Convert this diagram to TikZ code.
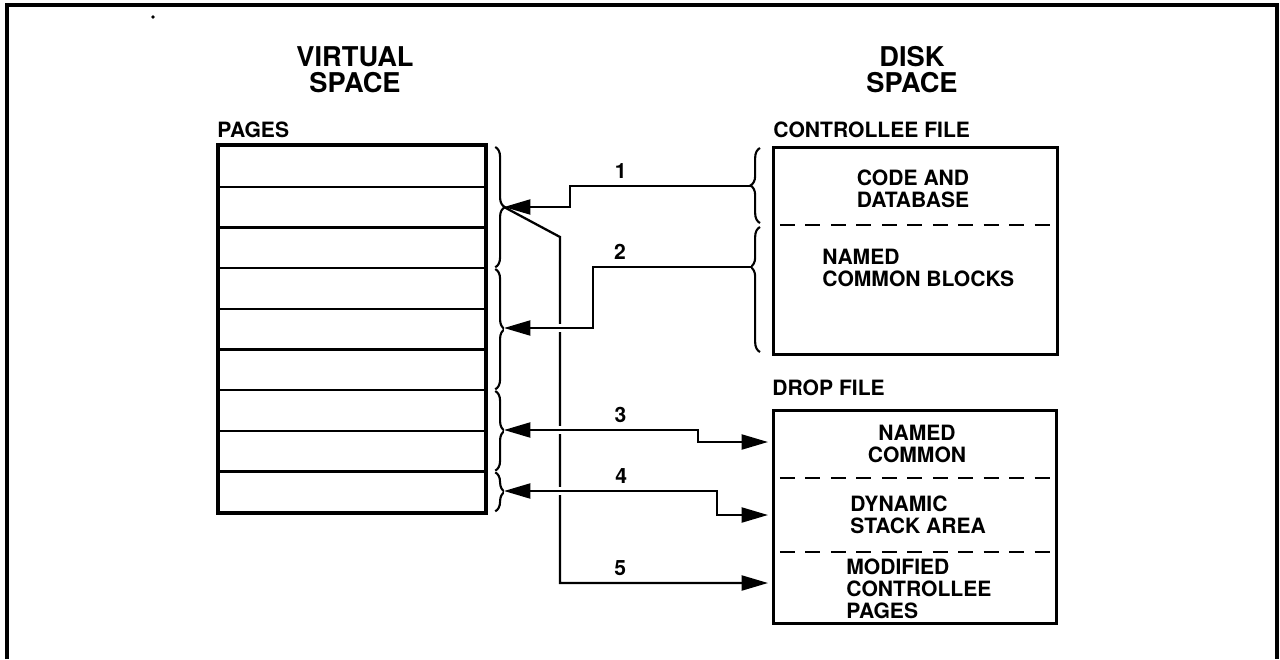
\documentclass[tikz,border=0pt]{standalone}
\usepackage{fontspec}
\setmainfont{TeX Gyre Heros}
\usetikzlibrary{positioning,arrows.meta,calc,decorations.pathreplacing}

\tikzset{
  pagerow/.style={draw, line width=1.3pt, minimum width=5.32cm, minimum height=0.8133cm, inner sep=0pt, anchor=north west},
  filebox/.style={draw, line width=1.8pt, inner sep=0pt, anchor=north west},
  sepline/.style={line width=1.2pt, dash pattern=on 8.5pt off 6pt, dash phase=10pt},
  conn/.style={line width=1.3pt, -{Triangle[length=15pt,width=8.5pt]}},
  twoway/.style={line width=1.3pt, {Triangle[length=15pt,width=8.5pt]}-{Triangle[length=15pt,width=8.5pt]}},
  gapped/.style={preaction={draw=white, line width=5pt, -}},
  curly/.style={decorate, decoration={brace, amplitude=5.5pt}, line width=1.2pt},
  title/.style={font=\fontsize{15.5}{15}\selectfont\bfseries, align=center, inner sep=0pt, anchor=north},
  head/.style={font=\fontsize{12}{12.3}\selectfont\bfseries, anchor=base west, inner sep=0pt},
  body/.style={font=\fontsize{12}{12.3}\selectfont\bfseries, inner sep=0pt},
  numlab/.style={font=\fontsize{12}{12.3}\selectfont\bfseries, anchor=base, inner sep=0pt, yshift=4.5pt},
}

\begin{document}
\begin{tikzpicture}[x=0.02cm, y=-0.02cm]
  \useasboundingbox (0,0) rectangle (1280,659);

  % frame
  \draw[line width=1.8pt] (7,659) -- (7,5) -- (1277,5) -- (1277,659);
  \fill (153,17) circle (1pt);

  % titles
  \node[title] (vtitle) at (355,46) {VIRTUAL\\SPACE};
  \node[title] (dtitle) at (912,46) {DISK\\SPACE};

  % pages
  \node[head] (pageslab) at (217,137) {PAGES};
  \foreach \i in {1,...,9}
    \node[pagerow] (p\i) at (218,{145+(\i-1)*40.67}) {};
  \draw[line width=1.8pt] (p1.north west) rectangle (p9.south east);

  % braces on the pages
  \draw[curly] ($(p1.north east)+(9,2)$) -- ($(p3.south east)+(9,-2)$);
  \draw[curly] ($(p4.north east)+(9,2)$) -- ($(p6.south east)+(9,-2)$);
  \draw[curly] ($(p7.north east)+(9,2)$) -- ($(p8.south east)+(9,-2)$);
  \draw[curly] ($(p9.north east)+(9,2)$) -- ($(p9.south east)+(9,-2)$);
  \coordinate (b1) at (504,207);
  \coordinate (b2) at (504,328);
  \coordinate (b3) at (504,430);
  \coordinate (b4) at (504,491);

  % controllee file
  \node[head] (cflab) at (773,137) {CONTROLLEE FILE};
  \node[filebox, minimum width=5.68cm, minimum height=4.14cm] (cfile) at (772,146) {};
  \draw[sepline] ($(cfile.north west)+(0,79)$) -- ($(cfile.north east)+(0,79)$);
  \node[body, align=center, anchor=north] (cdtext) at (913,170) {CODE AND\\DATABASE};
  \node[body, align=left, anchor=north west] (nctext) at (822,249) {NAMED\\COMMON BLOCKS};
  \draw[curly] (760,223) -- (760,148);
  \draw[curly, decoration={aspect=0.68}] (760,352) -- (760,227);
  \coordinate (c1) at (751,186);
  \coordinate (c2) at (751,267);

  % drop file
  \node[head] (dflab) at (772,395) {DROP FILE};
  \node[filebox, minimum width=5.66cm, minimum height=4.26cm] (dfile) at (772,409) {};
  \draw[sepline] ($(dfile.north west)+(0,69)$) -- ($(dfile.north east)+(0,69)$);
  \draw[sepline] ($(dfile.north west)+(0,143)$) -- ($(dfile.north east)+(0,143)$);
  \node[body, align=center, anchor=north] (nc2text) at (917,425) {NAMED\\COMMON};
  \node[body, align=left, anchor=north west] (dstext) at (850,496) {DYNAMIC\\STACK AREA};
  \node[body, align=left, anchor=north west] (mcptext) at (846,559) {MODIFIED\\CONTROLLEE\\PAGES};
  \coordinate (d1) at (768,442);
  \coordinate (d2) at (768,515);
  \coordinate (d3) at (768,583);

  % connectors
  \draw[conn] (b1) -- ++(56,30) -- ++(0,346) -- node[numlab, pos=.29] (n5) {5} (d3);
  \draw[conn] (c1) -- node[numlab, pos=.72] (n1) {1} ++(-181,0) |- (b1);
  \draw[conn, gapped] (c2) -- node[numlab, pos=.83] (n2) {2} ++(-158,0) |- (b2);
  \draw[twoway, gapped] (b3) -- node[numlab, pos=.6] (n3) {3} ++(194,0) |- (d1);
  \draw[twoway, gapped] (b4) -- node[numlab, pos=.55] (n4) {4} ++(213,0) |- (d2);
\end{tikzpicture}
\end{document}
